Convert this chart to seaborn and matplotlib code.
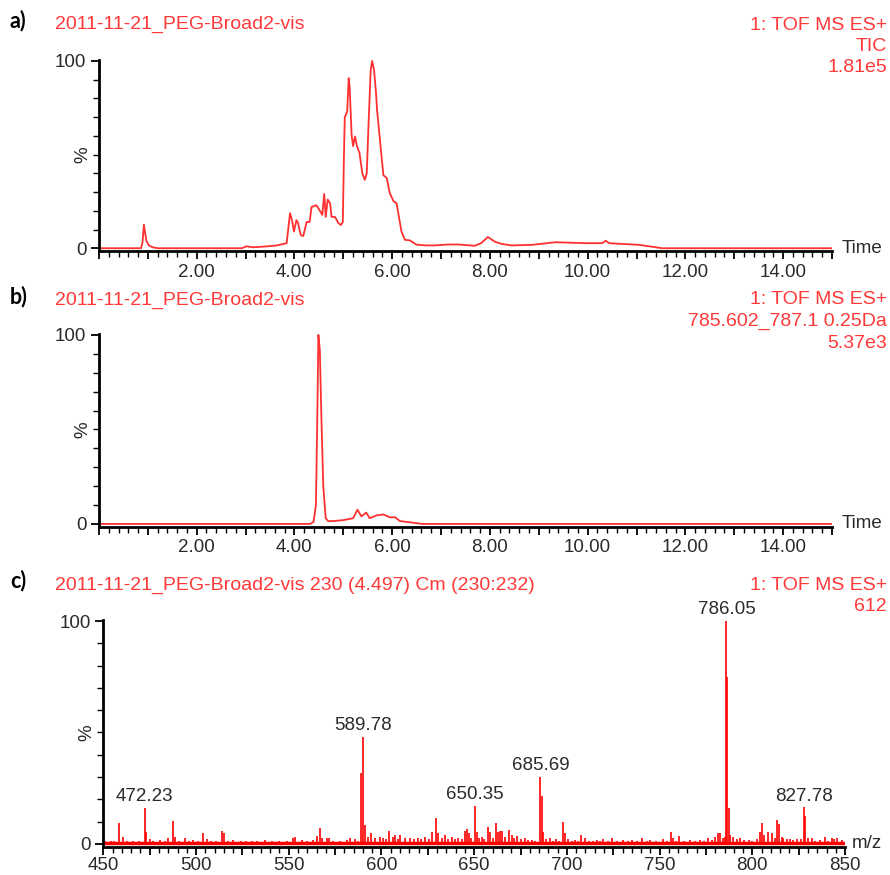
import matplotlib
matplotlib.use("Agg")
import matplotlib.pyplot as plt
from matplotlib.ticker import MultipleLocator, FixedLocator, FuncFormatter
import seaborn as sns
import pandas as pd

# a) TIC chromatogram
tic_time = [0.00, 0.86, 0.89, 0.92, 0.94, 0.97, 1.02, 1.10, 1.20, 2.92, 3.02, 3.16, 3.44, 3.64, 3.84,
            3.91, 3.95, 3.99, 4.04, 4.07, 4.13, 4.18, 4.25, 4.31, 4.35, 4.45, 4.52, 4.57, 4.61, 4.64,
            4.68, 4.73, 4.76, 4.83, 4.90, 4.95, 4.99, 5.01, 5.03, 5.08, 5.11, 5.13, 5.17, 5.20, 5.24,
            5.28, 5.33, 5.39, 5.44, 5.48, 5.52, 5.56, 5.59, 5.63, 5.67, 5.69, 5.75, 5.82, 5.89, 5.95,
            6.03, 6.09, 6.19, 6.26, 6.36, 6.50, 6.70, 6.87, 7.15, 7.35, 7.69, 7.82, 7.96, 8.10, 8.24,
            8.45, 8.86, 9.34, 9.96, 10.30, 10.37, 10.44, 11.05, 11.40, 11.52, 15.00]
tic_pct = [0, 0, 3, 12.5, 9, 4, 1.5, 0.5, 0, 0, 1, 0.5, 1, 1.5, 2.7,
           18.7, 15, 8.9, 15, 13.8, 7, 6.5, 14, 14, 22, 23, 20, 17.8, 29, 16.7,
           26, 24, 16.7, 16.7, 13.4, 12.4, 14, 45, 70, 73, 90.8, 86, 60.5, 54.5, 59.7,
           54.5, 51, 40, 36.5, 40, 68.5, 95, 100, 95, 82.7, 74, 57.8, 39, 37.5, 29.5,
           25, 24, 8.9, 4.5, 4.2, 1.9, 1.5, 1.5, 2, 2, 1.3, 2.7, 6, 3.5, 2.3,
           1.5, 1.8, 3.2, 2.7, 2.7, 4, 2.7, 1.8, 0.5, 0, 0]

# b) extracted ion chromatogram
eic_time = [0.00, 4.32, 4.39, 4.44, 4.47, 4.49, 4.52, 4.55, 4.59, 4.64, 4.69, 4.79, 5.00, 5.20, 5.29,
            5.37, 5.47, 5.54, 5.68, 5.82, 5.95, 6.06, 6.16, 6.47, 6.60, 15.00]
eic_pct = [0, 0, 1, 10, 60, 100, 92, 58, 20, 3, 1.5, 1.5, 2, 3, 7.5,
           4, 6, 3, 4.5, 5, 3.5, 3.5, 1.5, 0.5, 0, 0]

# c) mass spectrum (m/z, relative intensity)
ms_mz = [451, 454, 456, 458.6, 460.5, 463, 466, 469, 472.23, 473, 475, 477, 480.6, 483, 485,
         487.8, 488.8, 491, 494, 496, 498.5, 501, 503.9, 505.8, 508, 511, 514, 515, 517, 520,
         524, 527, 530, 533, 537.2, 541, 545, 549, 552.5, 553.4, 557, 560, 563.3, 565.4, 566.9,
         568, 570.5, 571.9, 574, 577.7, 581.3, 583.1, 585.8, 587.5, 589.0, 589.78, 591.2, 592.5, 594.4, 596.5,
         599.2, 601, 602.5, 604.3, 606, 607.3, 609, 610, 612.7, 615.4, 617.5, 619.9, 621.5, 623.5, 625.5,
         627.5, 629.5, 630.7, 632.5, 634.3, 636, 637.9, 639.5, 641.5, 643.5, 645, 646, 647.3, 648.5, 650.35,
         651.4, 652.8, 654.1, 655.5, 657.3, 658.6, 660, 661.7, 662.7, 664, 665.2, 666.5, 668.8, 670.3, 671.5,
         673, 675, 677.5, 679, 681.1, 683, 685.69, 686.5, 687.3, 688.5, 690.9, 692.5, 694, 696, 698.1,
         699, 700.5, 702.5, 704.4, 706, 707.7, 709.8, 712, 714, 716.1, 718, 719.7, 722, 724.2, 727,
         730.5, 733, 735, 738, 740.4, 743, 744.9, 748, 751.7, 754, 756.2, 757.4, 759, 760.7, 763,
         766.4, 769, 771.8, 774, 776.3, 778, 779.9, 781.7, 782.6, 784, 785.3, 786.05, 786.6, 787.3, 788,
         789.8, 791.5, 793.4, 795.5, 798.4, 800, 802.4, 804.2, 805.4, 806.5, 808.7, 810.5, 812, 813.5, 814.6,
         816, 816.8, 818.5, 820.4, 822, 824, 826, 827.78, 828.6, 830, 832.1, 834, 836.6, 839, 841,
         842.9, 844, 845.6, 848.3]
ms_int = [1.5, 1.2, 1.5, 9.3, 3.3, 1.2, 1.3, 1.2, 16, 5.5, 2, 1.5, 1.8, 1.5, 2.5,
          10.5, 3.3, 1.5, 2.5, 1.5, 1.8, 1.2, 4.8, 2, 1.2, 1.5, 6, 4.8, 1.5, 1.8,
          1.2, 1.3, 1.5, 1.2, 1.8, 1.2, 1.3, 1.2, 2.5, 3, 1.8, 1.3, 1.8, 3.6, 7.3,
          2.5, 2.6, 2.6, 1.5, 1.5, 1.8, 2.5, 2, 1.5, 31.7, 48, 8.5, 3, 4.8, 2.5,
          3.3, 2.5, 2, 6, 3, 3.9, 2, 4, 2.5, 2.8, 2, 2.5, 2, 3.3, 2,
          5.5, 11.5, 4.8, 2.5, 3.9, 2, 3.3, 2, 2.5, 2, 6, 6.7, 4.8, 2.5, 17,
          5.5, 2.5, 3.3, 2, 7.8, 5.5, 2.5, 9.3, 5.5, 6, 5.9, 3, 6.3, 3.9, 2.5,
          3.6, 2, 2.5, 1.8, 1.8, 1.5, 30, 21.5, 5.5, 2, 2.5, 1.5, 2, 1.5, 9.7,
          4.8, 2, 1.5, 1.8, 1.5, 3.9, 2.5, 1.5, 1.3, 1.8, 1.5, 2, 1.3, 2.6, 1.3,
          1.8, 1.2, 1.8, 1.2, 2.6, 1.3, 1.8, 1.2, 2, 1.5, 5.5, 2.5, 1.5, 3.6, 1.3,
          1.8, 1.3, 1.8, 1.3, 2.5, 1.8, 3.3, 5, 4.8, 2.5, 3, 100, 75, 16, 4,
          3.3, 2.2, 2.5, 1.8, 1.8, 1.5, 2, 5.5, 9.3, 4, 5.5, 4.8, 2.5, 10.8, 9,
          3, 2.5, 2, 2, 1.8, 2, 2, 16.4, 12.4, 2.5, 2.6, 1.5, 1.8, 3, 1.5,
          2.5, 2, 2.5, 1.8]
peak_labels = ["472.23", "589.78", "650.35", "685.69", "786.05", "827.78"]
ms_range = [450, 850]

sns.set_style("ticks")
plt.rcParams['font.family'] = ['Liberation Sans', 'DejaVu Sans']

RED_LINE = '#ff3030'
RED_STICK = '#ff0000'
RED_TXT = '#ff3838'
TXT = '#2a2a2a'
W, H = 890, 875

fig = plt.figure(figsize=(W / 100, H / 100), dpi=100)
ax_a = fig.add_axes([0.1112, 0.7131, 0.8236, 0.2183])
ax_b = fig.add_axes([0.1112, 0.3980, 0.8236, 0.2203])
ax_c = fig.add_axes([0.1161, 0.0317, 0.8334, 0.2598])


def style_axis(ax, xlim, major, minor, labelled, fmt, unit, unit_dx, pad=3):
    ax.set_xlim(*xlim)
    ax.set_ylim(-1.5, 100.5)
    sns.despine(ax=ax)
    for s in ['left', 'bottom']:
        ax.spines[s].set_linewidth(2)
        ax.spines[s].set_color('black')
    ax.yaxis.set_major_locator(FixedLocator([0, 100]))
    ax.yaxis.set_minor_locator(MultipleLocator(10))
    ax.xaxis.set_major_locator(MultipleLocator(major))
    ax.xaxis.set_minor_locator(MultipleLocator(minor))
    ax.xaxis.set_major_formatter(FuncFormatter(
        lambda v, pos: fmt.format(v) if any(abs(v - l) < 1e-6 for l in labelled) else ''))
    ax.tick_params(which='major', length=6, width=1.3, color='black',
                   labelcolor=TXT, labelsize=13.5, pad=3)
    ax.tick_params(axis='x', which='major', pad=pad)
    ax.tick_params(which='minor', length=4, width=1.0, color='black')
    ax.set_xlabel('')
    ax.set_ylabel('')
    ax.annotate('%', xy=(xlim[0], 50), xytext=(-11.5, 0), textcoords='offset points',
                rotation=90, ha='center', va='center', fontsize=13.5, color=TXT,
                annotation_clip=False)
    ax.annotate(unit, xy=(xlim[1], 0), xytext=(unit_dx, 0), textcoords='offset points',
                ha='left', va='center', fontsize=13.5, color=TXT, annotation_clip=False)


def header(letter, title, right_lines, y_letter, y_title, y_right):
    fig.text(10 / W, 1 - y_letter / H, letter, fontsize=15.5, fontweight='bold',
             family=['Lato', 'DejaVu Sans'], color='black', va='center', ha='left')
    fig.text(55 / W, 1 - y_title / H, title, fontsize=14, color=RED_TXT, va='center', ha='left')
    for i, line in enumerate(right_lines):
        fig.text(887 / W, 1 - (y_right + 21.5 * i) / H, line, fontsize=14,
                 color=RED_TXT, va='center', ha='right')


# a)
df_a = pd.DataFrame({'time': tic_time, 'pct': tic_pct})
sns.lineplot(data=df_a, x='time', y='pct', ax=ax_a, color=RED_LINE, lw=1.3,
             estimator=None, sort=False)
style_axis(ax_a, (0, 15), 1, 0.2, list(range(2, 15, 2)), '{:.2f}', 'Time', 7)
header('a)', '2011-11-21_PEG-Broad2-vis', ['1: TOF MS ES+', 'TIC', '1.81e5'], 21, 24, 25)

# b)
df_b = pd.DataFrame({'time': eic_time, 'pct': eic_pct})
sns.lineplot(data=df_b, x='time', y='pct', ax=ax_b, color=RED_LINE, lw=1.3,
             estimator=None, sort=False)
style_axis(ax_b, (0, 15), 1, 0.2, list(range(2, 15, 2)), '{:.2f}', 'Time', 7)
header('b)', '2011-11-21_PEG-Broad2-vis',
       ['1: TOF MS ES+', '785.602_787.1 0.25Da', '5.37e3'], 297, 300, 300)

# c)
ax_c.vlines(ms_mz, 0, ms_int, color=RED_STICK, lw=1.2)
ax_c.plot(ms_range, [0.6, 0.6], color=RED_STICK, lw=2.5, solid_capstyle='butt')
for lab in peak_labels:
    i = ms_mz.index(float(lab))
    ax_c.annotate(lab, xy=(ms_mz[i], ms_int[i]), xytext=(0, 2), textcoords='offset points',
                  ha='center', va='bottom', fontsize=13.5, color=TXT)
style_axis(ax_c, tuple(ms_range), 25, 5, list(range(450, 851, 50)), '{:.0f}', 'm/z', 5, pad=1)
header('c)', '2011-11-21_PEG-Broad2-vis 230 (4.497) Cm (230:232)',
       ['1: TOF MS ES+', '612'], 581, 585, 585)

fig.savefig('out.png', dpi=100, facecolor='white')
